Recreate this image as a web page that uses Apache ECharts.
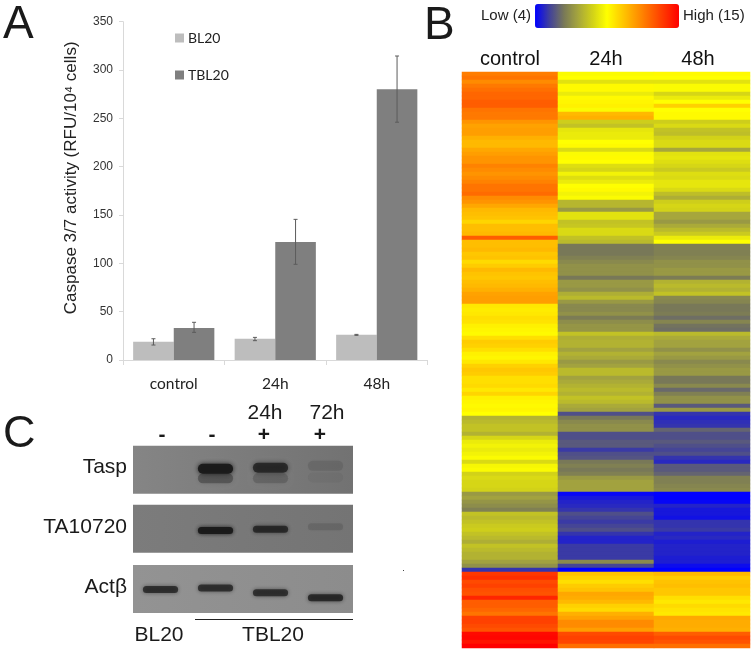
<!DOCTYPE html>
<html><head><meta charset="utf-8">
<style>html,body{margin:0;padding:0;background:#fff}#c{width:755px;height:653px}</style>
<script src="https://cdn.jsdelivr.net/npm/echarts@6/dist/echarts.min.js"></script>
</head><body><div id="c"></div>
<script>
// Panel A
const timeCats = ['control','24h','48h'];
const bl20 = [19,22,26];
const tbl20 = [33,122,280];
const bl20Low = [15.5,20,25.5];
const bl20High = [22,23.4,26.5];
const tbl20Low = [28.6,99,246];
const tbl20High = [39,145.5,314.5];
const yTicks = [0,50,100,150,200,250,300,350];
// Panel B (rows top to bottom, expression 4..15)
const hmColumns = ['control','24h','48h'];
const hmControl = [
12.3,12.5,12.0,12.4,12.6,12.8,12.8,13.0,13.0,12.5,12.4,12.4,11.8,11.5,11.6,11.6,11.2,11.0,11.0,11.4,
11.6,11.8,11.8,12.2,12.0,11.8,12.0,12.2,12.5,12.5,12.7,12.0,11.8,11.4,11.0,10.9,10.8,10.4,10.9,10.9,
11.0,13.0,10.9,10.9,11.0,10.7,10.8,10.3,10.6,11.0,
10.8,10.7,10.9,11.0,11.2,11.5,11.6,11.6,10.0,9.9,10.0,10.2,10.1,9.8,9.7,9.6,10.2,10.6,10.5,10.2,
9.8,9.7,10.0,10.5,10.7,10.6,10.2,10.2,10.3,10.0,10.4,9.8,9.7,9.6,9.7,9.5,7.6,7.8,8.0,8.0,
7.6,8.5,9.0,9.2,9.0,9.2,9.4,8.6,9.3,9.4,
8.4,8.6,8.5,8.5,8.4,7.0,7.2,6.9,6.7,6.4,8.0,7.8,8.0,8.2,8.3,8.0,7.8,7.5,8.0,7.8,
7.6,7.6,7.2,6.8,4.9,13.8,14.0,13.4,13.6,13.3,13.2,14.2,13.0,13.0,12.8,12.5,13.6,13.6,13.4,13.2,
14.8,14.9,14.6,15.0];
const hm24h = [
9.4,9.5,8.8,9.6,9.6,9.0,9.6,9.7,9.8,9.4,11.0,11.2,8.3,8.0,8.9,9.0,9.0,9.5,9.6,8.6,
9.4,9.6,9.5,8.7,8.5,9.2,8.7,9.0,9.5,9.6,9.2,9.4,7.7,7.7,7.0,8.8,8.8,8.0,8.1,8.6,
8.6,8.0,7.8,6.2,6.2,6.2,6.4,6.6,6.8,6.8,
6.8,6.2,7.0,7.0,6.8,7.5,7.8,7.0,6.6,6.6,6.8,6.3,6.7,6.9,6.9,8.0,7.5,7.6,7.6,7.2,
7.6,7.4,7.0,7.2,7.8,7.8,7.2,7.4,7.6,7.8,7.6,8.0,7.8,7.4,7.2,5.4,6.2,6.6,6.8,6.8,
5.4,5.4,5.6,5.6,5.0,5.4,5.5,6.2,6.4,6.2,
6.4,7.0,7.2,7.2,7.2,4.1,4.4,4.6,4.7,4.9,5.4,5.2,5.0,5.2,5.4,4.9,4.6,4.6,5.0,5.0,
5.0,5.0,6.6,5.2,4.0,10.8,10.5,10.2,10.6,10.8,11.4,11.3,11.0,10.5,10.3,11.2,11.5,12.0,12.0,11.6,
13.4,13.6,13.5,12.6];
const hm48h = [
9.6,9.5,8.8,9.4,9.4,8.5,9.0,9.5,10.5,9.5,9.6,9.6,8.3,8.6,8.0,7.9,8.4,8.6,8.6,7.3,
8.8,8.9,8.7,8.5,8.2,8.7,8.6,8.9,8.9,8.6,7.9,7.5,8.3,8.5,8.4,7.3,7.3,7.0,7.4,7.8,
8.2,9.0,9.5,6.4,6.4,6.4,6.5,6.8,6.8,7.0,
7.0,6.3,7.6,7.8,7.6,8.0,6.6,6.5,6.2,6.2,6.3,6.0,6.5,6.1,6.0,7.8,7.4,7.2,7.2,6.8,
7.2,7.0,6.6,6.8,7.0,7.0,6.2,6.2,6.6,5.9,6.4,6.8,6.8,5.6,7.0,4.9,4.7,4.8,4.9,5.8,
5.4,5.4,5.6,5.4,5.2,5.4,4.9,4.7,5.6,5.6,
5.8,6.4,6.4,6.5,6.6,4.0,4.0,4.1,4.6,4.4,4.4,4.3,4.9,4.9,5.0,4.6,4.7,4.5,4.6,4.6,
4.6,4.5,4.5,4.2,4.0,11.0,10.6,10.8,10.9,10.7,10.7,10.2,10.0,10.3,10.1,10.0,11.4,11.3,11.3,11.2,
13.0,13.4,13.2,12.6];
// Panel C: [lane, migration 0..1 from top of blot, band darkness 0..1]
const lanes = ['BL20 -','TBL20 -','TBL20 24h +','TBL20 72h +'];
const taspBands = [[1,0.68,0.35],[2,0.68,0.2],[1,0.48,0.95],[2,0.46,0.75],[3,0.42,0.12],[3,0.66,0.05]];
const ta10720Bands = [[1,0.54,0.95],[2,0.51,0.75],[3,0.46,0.14]];
const actinBands = [[0,0.51,0.72],[1,0.48,0.72],[2,0.58,0.72],[3,0.68,0.78]];

const hmRows = hmControl.map((_, i) => String(i));
const hmData = [];
[hmControl, hm24h, hm48h].forEach((col, x) => col.forEach((v, y) => hmData.push([x, y, v])));

function errorSeries(name, low, high, sign) {
  return {
    type:'custom', name, xAxisIndex:0, yAxisIndex:0, silent:true, z:5,
    data: low.map((l,i)=>[i,l,high[i]]),
    encode:{x:0,y:[1,2]},
    renderItem(params, api){
      const i = api.value(0), band = api.size([1,0])[0];
      const lo = api.coord([i, api.value(1)]), hi = api.coord([i, api.value(2)]);
      const x = lo[0] + sign*band*0.2, cap = 2;
      const st = {stroke:'#5c5c5c', lineWidth:1};
      return {type:'group', children:[
        {type:'line', shape:{x1:x,y1:lo[1],x2:x,y2:hi[1]}, style:st},
        {type:'line', shape:{x1:x-cap,y1:lo[1],x2:x+cap,y2:lo[1]}, style:st},
        {type:'line', shape:{x1:x-cap,y1:hi[1],x2:x+cap,y2:hi[1]}, style:st}
      ]};
    }
  };
}
function blotSeries(bands, idx, h, blur) {
  return {
    type:'custom', xAxisIndex:idx, yAxisIndex:idx, silent:true,
    data:bands, encode:{x:0,y:1},
    renderItem(params, api){
      const c = api.coord([api.value(0), api.value(1)]);
      const w = api.size([1,0])[0]*0.64;
      const d = api.value(2);
      return {type:'rect',
        shape:{x:c[0]-w/2,y:c[1]-h/2,width:w,height:h,r:h/2},
        style:{fill:'rgba(25,25,25,'+d+')',shadowBlur:blur,shadowColor:'rgba(25,25,25,'+d+')'}};
    }
  };
}
const blotGrid = (top, a, b) => ({left:133,width:220,top,height:48,show:true,borderWidth:0,
  backgroundColor:new echarts.graphic.LinearGradient(0,0,1,0,[{offset:0,color:a},{offset:1,color:b}])});
const blotX = i => ({type:'category',gridIndex:i,data:lanes,show:false});
const blotY = i => ({type:'value',gridIndex:i,min:0,max:1,inverse:true,show:false});

const txt = (text,x,y,size,extra) => ({type:'text',x,y,style:Object.assign({text,fontSize:size,fontFamily:'Liberation Sans',fill:'#1a1a1a',verticalAlign:'middle'},extra||{})});

const chart = echarts.init(document.getElementById('c'),null,{renderer:'canvas'});
chart.setOption({
  animation:false, backgroundColor:'#fff',
  grid:[
    {left:123,width:304.5,top:21.7,height:338.3},
    {left:462,width:288,top:72,height:576},
    blotGrid(445.7,'#858585','#727272'),
    blotGrid(504.7,'#7c7c7c','#747474'),
    blotGrid(565,'#939393','#8c8c8c')
  ],
  xAxis:[
    {type:'category',gridIndex:0,data:timeCats,
      axisLine:{lineStyle:{color:'#d9d9d9'}},axisTick:{show:true,length:5,lineStyle:{color:'#d9d9d9'}},
      axisLabel:{fontFamily:'Lato',fontSize:15.5,color:'#222',margin:16}},
    {type:'category',gridIndex:1,position:'top',data:hmColumns,axisLine:{show:false},axisTick:{show:false},
      axisLabel:{fontFamily:'Liberation Sans',fontSize:20,color:'#111',margin:3,
        formatter:v=>v==='48h'?'{s|48h}':v,
        rich:{s:{fontFamily:'Liberation Sans',fontSize:20,color:'#111',padding:[0,8,0,0]}}}},
    blotX(2),blotX(3),blotX(4)
  ],
  yAxis:[
    {type:'value',gridIndex:0,min:0,max:350,interval:50,
      axisLine:{show:true,lineStyle:{color:'#d9d9d9'}},axisTick:{show:true,length:4,lineStyle:{color:'#d9d9d9'}},splitLine:{show:false},
      axisLabel:{fontFamily:'Liberation Sans',fontSize:12,color:'#333',margin:10,
        formatter:v=>yTicks.includes(v)?String(v):''},
      name:'Caspase 3/7 activity (RFU/10\u2074 cells)',nameLocation:'middle',nameGap:43,
      nameTextStyle:{fontFamily:'Liberation Sans',fontSize:17,color:'#222',padding:[0,0,0,26]}},
    {type:'category',gridIndex:1,data:hmRows,inverse:true,show:false},
    blotY(2),blotY(3),blotY(4)
  ],
  legend:{data:['BL20','TBL20'],orient:'vertical',left:170,top:26,itemWidth:9,itemHeight:9,itemGap:23,icon:'rect',
    textStyle:{fontFamily:'Lato',fontSize:14,color:'#222',padding:[3,0,0,-1]},selectedMode:false},
  visualMap:{type:'continuous',seriesIndex:2,min:4,max:15,orient:'horizontal',calculable:false,
    left:466,top:-11,itemWidth:24,itemHeight:144,text:['High (15)','Low (4)'],textGap:4,
    textStyle:{fontFamily:'Liberation Sans',fontSize:15,color:'#222'},
    inRange:{color:['#0000ff','#40409c','#787858','#a6a63c','#d2d218','#ffff00','#ffcc00','#ff9900','#ff6600','#ff3300','#ff0000']}},
  series:[
    {type:'bar',name:'BL20',data:bl20,xAxisIndex:0,yAxisIndex:0,barWidth:'40%',barGap:0,itemStyle:{color:'#bdbdbd'}},
    {type:'bar',name:'TBL20',data:tbl20,xAxisIndex:0,yAxisIndex:0,barWidth:'40%',barGap:0,itemStyle:{color:'#7f7f7f'}},
    {type:'heatmap',data:hmData,xAxisIndex:1,yAxisIndex:1,progressive:0,emphasis:{disabled:true}},
    errorSeries('BL20 error',bl20Low,bl20High,-1),
    errorSeries('TBL20 error',tbl20Low,tbl20High,1),
    blotSeries(taspBands,2,10,5),
    blotSeries(ta10720Bands,3,7,4),
    blotSeries(actinBands,4,7,4)
  ],
  graphic:[
    txt('A',3,25,46),txt('B',424,26,46),txt('C',3,435,45),
    txt('Tasp',127,467,21,{align:'right'}),
    txt('TA10720',127,527,21,{align:'right'}),
    txt('Act\u03b2',127,587,21,{align:'right'}),
    txt('24h',265,413,21,{align:'center'}),
    txt('72h',327,413,21,{align:'center'}),
    txt('-',162,435,21,{align:'center',fontWeight:'bold'}),
    txt('-',212,435,21,{align:'center',fontWeight:'bold'}),
    txt('+',264,435,21,{align:'center',fontWeight:'bold'}),
    txt('+',320,435,21,{align:'center',fontWeight:'bold'}),
    txt('BL20',159,635,21,{align:'center'}),
    txt('TBL20',273,635,21,{align:'center'}),
    {type:'line',shape:{x1:195,y1:619.5,x2:353,y2:619.5},style:{stroke:'#222',lineWidth:1}},
    {type:'rect',shape:{x:403,y:570,width:1,height:1},style:{fill:'#444'}}
  ]
});
</script></body></html>
